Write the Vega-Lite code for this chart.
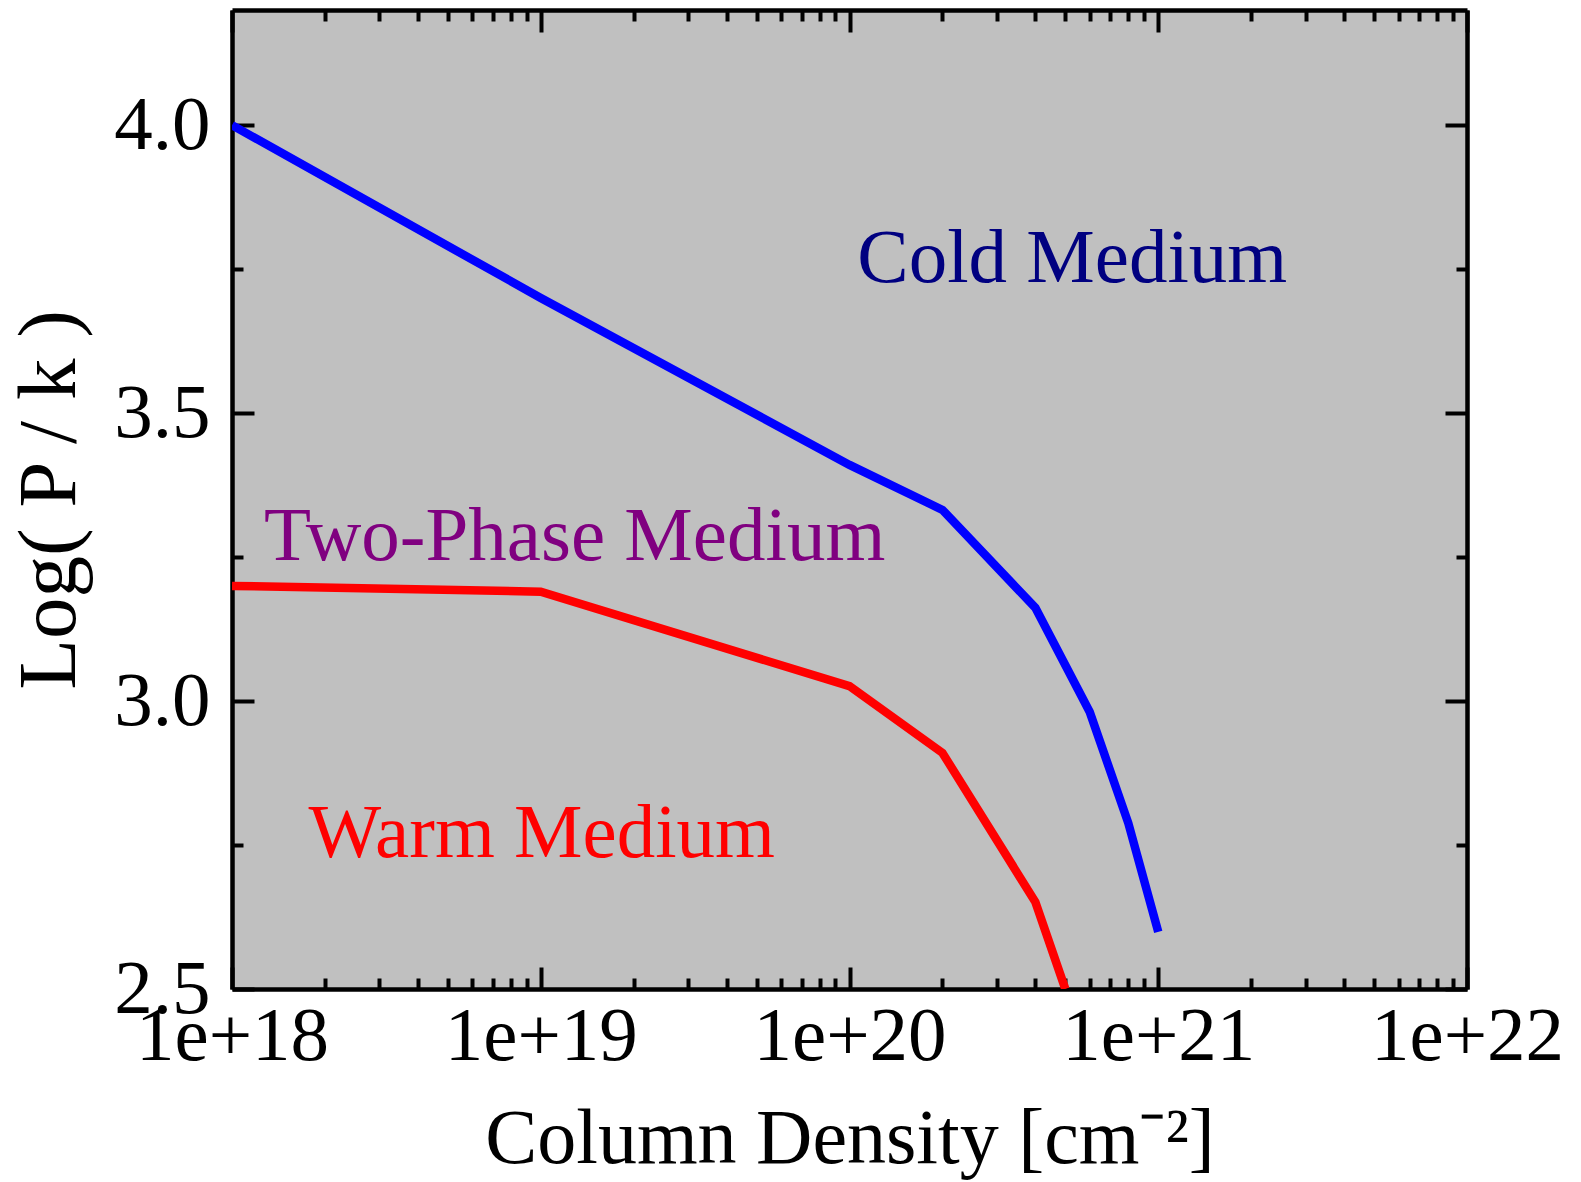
{
  "$schema": "https://vega.github.io/schema/vega-lite/v6.json",
  "width": 1235,
  "height": 979,
  "autosize": "none",
  "padding": {"left": 232, "top": 10, "right": 114, "bottom": 193},
  "background": "white",
  "config": {
    "view": {"fill": "#c0c0c0", "stroke": null},
    "font": "Liberation Serif",
    "axis": {"grid": false, "domainColor": "black", "tickColor": "black", "labelColor": "black", "titleColor": "black", "labelFont": "Liberation Serif", "titleFont": "Liberation Serif", "labelFlush": false, "labelOverlap": false, "labelLimit": 0}
  },
  "datasets": {
    "curves": [
      {"N": 1e18, "logP": 4.0, "phase": "Cold"},
      {"N": 1e19, "logP": 3.70, "phase": "Cold"},
      {"N": 1e20, "logP": 3.41, "phase": "Cold"},
      {"N": 2e20, "logP": 3.332, "phase": "Cold"},
      {"N": 4e20, "logP": 3.162, "phase": "Cold"},
      {"N": 6e20, "logP": 2.981, "phase": "Cold"},
      {"N": 8e20, "logP": 2.788, "phase": "Cold"},
      {"N": 1e21, "logP": 2.599, "phase": "Cold"},
      {"N": 1e18, "logP": 3.20, "phase": "Warm"},
      {"N": 1e19, "logP": 3.19, "phase": "Warm"},
      {"N": 1e20, "logP": 3.026, "phase": "Warm"},
      {"N": 2e20, "logP": 2.91, "phase": "Warm"},
      {"N": 4e20, "logP": 2.651, "phase": "Warm"},
      {"N": 5e20, "logP": 2.5, "phase": "Warm"}
    ],
    "labels": [
      {"N": 1.06e20, "logP": 3.728, "label": "Cold Medium"},
      {"N": 1.27e18, "logP": 3.245, "label": "Two-Phase Medium"},
      {"N": 1.77e18, "logP": 2.729, "label": "Warm Medium"}
    ]
  },
  "layer": [
    {
      "data": {"name": "curves"},
      "mark": {"type": "line", "strokeWidth": 8.5, "clip": true},
      "encoding": {
        "x": {"field": "N", "type": "quantitative",
          "scale": {"type": "log", "domain": [1e18, 1e22], "nice": false},
          "axis": {"orient": "bottom", "values": [1e18, 1e19, 1e20, 1e21, 1e22], "ticks": false, "domain": true, "domainWidth": 4.5,
            "labelExpr": "'1e+' + round(log(datum.value)/LN10)", "labelFontSize": 77, "labelPadding": 9, "labelBaseline": "top",
            "title": "Column Density [cm⁻²]", "titleFontSize": 78, "titleFontWeight": "normal", "titleBaseline": "alphabetic", "titlePadding": 88}},
        "y": {"field": "logP", "type": "quantitative",
          "scale": {"domain": [2.5, 4.2], "nice": false, "zero": false},
          "axis": {"orient": "left", "values": [2.5, 3.0, 3.5, 4.0], "format": ".1f", "ticks": false, "domain": true, "domainWidth": 4.5,
            "labelFontSize": 77, "labelPadding": 22,
            "title": "Log( P / k )", "titleFontSize": 83, "titleFontWeight": "normal", "titlePadding": 22}},
        "stroke": {"field": "phase", "type": "nominal", "scale": {"domain": ["Cold", "Warm"], "range": ["#0000ff", "#ff0000"]}, "legend": null}
      }
    },
    {
      "data": {"name": "labels"},
      "mark": {"type": "text", "font": "Liberation Serif", "fontSize": 77, "align": "left", "baseline": "alphabetic"},
      "encoding": {
        "x": {"field": "N", "type": "quantitative", "scale": {"type": "log", "domain": [1e18, 1e22], "nice": false}, "axis": null},
        "y": {"field": "logP", "type": "quantitative", "scale": {"domain": [2.5, 4.2], "nice": false, "zero": false}, "axis": null},
        "text": {"field": "label", "type": "nominal"},
        "fill": {"field": "label", "type": "nominal", "scale": {"domain": ["Cold Medium", "Two-Phase Medium", "Warm Medium"], "range": ["#000080", "#800080", "#ff0000"]}, "legend": null}
      }
    },
    {
      "data": {"name": "curves"},
      "mark": {"type": "point", "opacity": 0},
      "encoding": {
        "x": {"field": "N", "type": "quantitative", "scale": {"type": "log", "domain": [1e18, 1e22], "nice": false},
          "axis": {"orient": "bottom", "values": [1e18, 1e19, 1e20, 1e21, 1e22], "tickSize": -22, "tickWidth": 4, "labels": false, "domain": false, "title": null}},
        "y": {"field": "logP", "type": "quantitative", "scale": {"domain": [2.5, 4.2], "nice": false, "zero": false},
          "axis": {"orient": "left", "values": [2.5, 3.0, 3.5, 4.0], "tickSize": -22, "tickWidth": 4, "labels": false, "domain": false, "title": null}}
      }
    },
    {
      "data": {"name": "curves"},
      "mark": {"type": "point", "opacity": 0},
      "encoding": {
        "x": {"field": "N", "type": "quantitative", "scale": {"type": "log", "domain": [1e18, 1e22], "nice": false},
          "axis": {"orient": "bottom", "values": [2e18, 3e18, 4e18, 5e18, 6e18, 7e18, 8e18, 9e18, 2e19, 3e19, 4e19, 5e19, 6e19, 7e19, 8e19, 9e19, 2e20, 3e20, 4e20, 5e20, 6e20, 7e20, 8e20, 9e20, 2e21, 3e21, 4e21, 5e21, 6e21, 7e21, 8e21, 9e21], "tickSize": -11, "tickWidth": 4, "labels": false, "domain": false, "title": null}},
        "y": {"field": "logP", "type": "quantitative", "scale": {"domain": [2.5, 4.2], "nice": false, "zero": false},
          "axis": {"orient": "left", "values": [2.75, 3.25, 3.75], "tickSize": -11, "tickWidth": 4, "labels": false, "domain": false, "title": null}}
      }
    },
    {
      "data": {"name": "curves"},
      "mark": {"type": "point", "opacity": 0},
      "encoding": {
        "x": {"field": "N", "type": "quantitative", "scale": {"type": "log", "domain": [1e18, 1e22], "nice": false},
          "axis": {"orient": "top", "values": [1e18, 1e19, 1e20, 1e21, 1e22], "tickSize": -22, "tickWidth": 4, "labels": false, "domain": true, "domainWidth": 4.5, "title": null}},
        "y": {"field": "logP", "type": "quantitative", "scale": {"domain": [2.5, 4.2], "nice": false, "zero": false},
          "axis": {"orient": "right", "values": [2.5, 3.0, 3.5, 4.0], "tickSize": -22, "tickWidth": 4, "labels": false, "domain": true, "domainWidth": 4.5, "title": null}}
      }
    },
    {
      "data": {"name": "curves"},
      "mark": {"type": "point", "opacity": 0},
      "encoding": {
        "x": {"field": "N", "type": "quantitative", "scale": {"type": "log", "domain": [1e18, 1e22], "nice": false},
          "axis": {"orient": "top", "values": [2e18, 3e18, 4e18, 5e18, 6e18, 7e18, 8e18, 9e18, 2e19, 3e19, 4e19, 5e19, 6e19, 7e19, 8e19, 9e19, 2e20, 3e20, 4e20, 5e20, 6e20, 7e20, 8e20, 9e20, 2e21, 3e21, 4e21, 5e21, 6e21, 7e21, 8e21, 9e21], "tickSize": -11, "tickWidth": 4, "labels": false, "domain": false, "title": null}},
        "y": {"field": "logP", "type": "quantitative", "scale": {"domain": [2.5, 4.2], "nice": false, "zero": false},
          "axis": {"orient": "right", "values": [2.75, 3.25, 3.75], "tickSize": -11, "tickWidth": 4, "labels": false, "domain": false, "title": null}}
      }
    }
  ],
  "resolve": {"axis": {"x": "independent", "y": "independent"}}
}
